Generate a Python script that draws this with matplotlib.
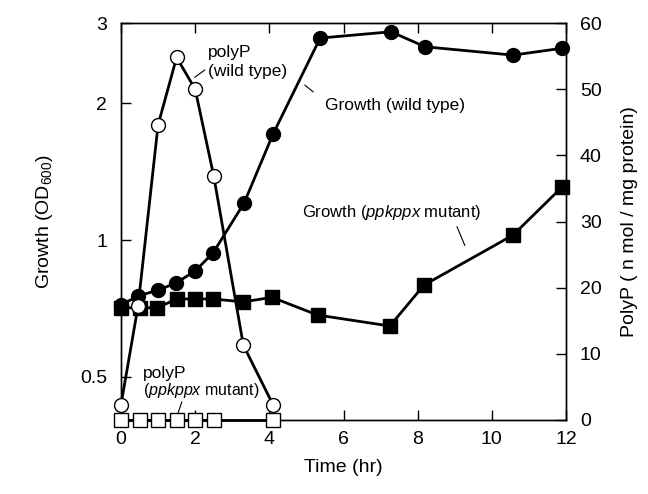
import numpy as np
import matplotlib
matplotlib.use("Agg")
import matplotlib.pyplot as plt

plt.rcParams["font.family"] = ["Liberation Sans", "DejaVu Sans"]
plt.rcParams["mathtext.fontset"] = "custom"
plt.rcParams["mathtext.rm"] = "Liberation Sans"
plt.rcParams["mathtext.it"] = "Liberation Sans:italic"

# growth of wild type (OD600, log axis)
t_wt = [0, 0.46, 1.0, 1.48, 2.0, 2.48, 3.32, 4.1, 5.37, 7.28, 8.2, 10.57, 11.89]
od_wt = [0.72, 0.753, 0.776, 0.804, 0.855, 0.936, 1.206, 1.71, 2.78, 2.87, 2.66, 2.55, 2.64]

# growth of ppkppx mutant
t_mut = [0, 0.5, 0.97, 1.5, 2.0, 2.48, 3.3, 4.07, 5.3, 7.25, 8.17, 10.57, 11.89]
od_mut = [0.709, 0.71, 0.709, 0.742, 0.742, 0.742, 0.731, 0.748, 0.684, 0.647, 0.796, 1.025, 1.307]

# polyP of wild type (nmol / mg protein)
t_pwt = [0, 0.46, 1.0, 1.5, 2.0, 2.5, 3.3, 4.1]
p_wt = [2.3, 17.2, 44.6, 54.8, 50.0, 36.9, 11.3, 2.3]

# polyP of ppkppx mutant
t_pmut = [0, 0.5, 1.0, 1.5, 2.0, 2.5, 4.1]
p_mut = [0, 0, 0, 0, 0, 0, 0]

fig = plt.figure(figsize=(6.48, 4.94), dpi=100)
ax = fig.add_axes([0.1867, 0.1498, 0.6868, 0.8036])
ax2 = ax.twinx()

lw = 2.0
ax.plot(t_wt, od_wt, "-o", color="black", lw=lw, ms=10, mfc="black", mec="black", clip_on=False, zorder=3)
ax.plot(t_mut, od_mut, "-s", color="black", lw=lw, ms=10.5, mfc="black", mec="black", clip_on=False, zorder=2)
ax2.plot(t_pwt, p_wt, "-o", color="black", lw=lw, ms=10, mfc="white", mec="black", mew=1.0, clip_on=False, zorder=3)
ax2.plot(t_pmut, p_mut, "-s", color="black", lw=lw, ms=10, mfc="white", mec="black", mew=1.0, clip_on=False, zorder=4)

ax.set_yscale("log")
ax.set_ylim(0.402, 3)
ax.set_yticks([0.5, 1, 2, 3])
ax.set_yticklabels(["0.5", "1", "2", "3"])
ax.yaxis.set_minor_locator(matplotlib.ticker.NullLocator())
ax.set_xlim(0, 12)
ax.set_xticks(range(0, 13, 2))
ax2.set_ylim(0, 60)
ax2.set_yticks(range(0, 61, 10))

for a in (ax, ax2):
    a.tick_params(direction="in", length=7, width=1, labelsize=14, top=True)
    for s in a.spines.values():
        s.set_linewidth(1)
ax.tick_params(axis="y", pad=10)
ax2.tick_params(axis="y", pad=10)
ax.tick_params(axis="x", pad=8)

ax.set_xlabel("Time (hr)", fontsize=14, labelpad=8)
ax.set_ylabel("Growth (OD$_{\\mathrm{600}}$)", fontsize=14, labelpad=18)
ax2.set_ylabel("PolyP ( n mol / mg protein)", fontsize=14, labelpad=14)

# annotations with leader lines (placed on the linear polyP axis)
fs = 12.5
ax2.text(2.35, 55.6, "polyP", fontsize=fs, ha="left", va="center")
ax2.text(2.35, 52.6, "(wild type)", fontsize=fs, ha="left", va="center")
ax2.plot([1.99, 2.26], [51.8, 52.9], color="black", lw=0.8)

ax2.text(5.5, 47.6, "Growth (wild type)", fontsize=fs, ha="left", va="center")
ax2.plot([4.96, 5.18], [50.6, 49.6], color="black", lw=0.8)

ax2.text(4.88, 31.4, "Growth ($\\mathit{ppkppx}$ mutant)", fontsize=12, ha="left", va="center")
ax2.plot([9.06, 9.27], [29.2, 26.4], color="black", lw=0.8)

ax2.text(0.59, 7.1, "polyP", fontsize=fs, ha="left", va="center")
ax2.text(0.59, 4.5, "($\\mathit{ppkppx}$ mutant)", fontsize=11.5, ha="left", va="center")
ax2.plot([1.64, 1.54], [2.72, 1.06], color="black", lw=0.8)

fig.savefig("out.png", dpi=100)
